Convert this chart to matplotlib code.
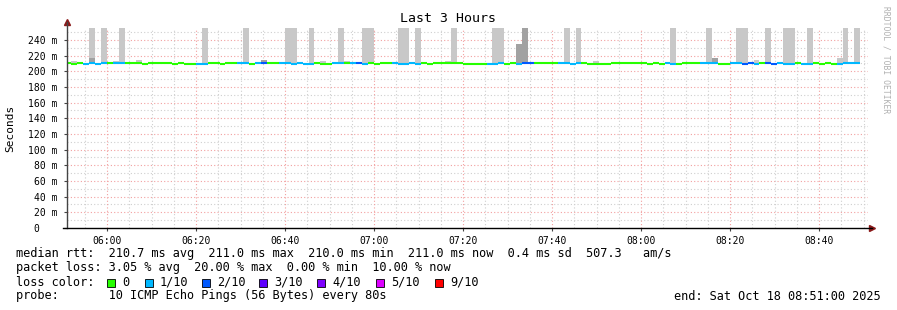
import numpy as np
import matplotlib.pyplot as plt
from matplotlib.patches import Rectangle

# bins of 80 s, minutes after 05:51 (left edge of first bin)
step_min = 80 / 60
first_edge = -23 / 60

# loss per bin (pings lost out of 10) and median rtt level (U = 211.0, D = 209.6 ms)
loss = [0, 0, 0, 1, 1, 1, 1, 0, 1, 1, 0, 0, 0, 0, 0, 0, 0, 0, 0, 0,
        0, 0, 1, 1, 0, 0, 0, 0, 0, 1, 1, 0, 1, 2, 0, 0, 1, 1, 1, 1,
        1, 1, 0, 0, 0, 1, 1, 0, 1, 2, 1, 0, 0, 0, 0, 1, 1, 1, 1, 1,
        0, 0, 0, 0, 0, 0, 0, 0, 0, 0, 0, 1, 1, 1, 0, 0, 1, 2, 2, 0,
        0, 0, 0, 1, 1, 1, 1, 0, 0, 0, 0, 0, 0, 0, 0, 0, 0, 0, 0, 0,
        0, 1, 1, 0, 0, 0, 0, 1, 1, 1, 0, 0, 1, 1, 2, 2, 1, 0, 2, 2,
        1, 1, 1, 0, 1, 1, 0, 0, 0, 0, 1, 1, 1, 1]
levels = ("UDUDUDUUUU" "UUUDUUUUDU" "DDDDUUDUUU" "UDUUUUUUDU" "DDUDDUUUUU"
          "DUDUUUDDUD" "UDUUUUUDDD" "DDDUDUDUUU" "UUUUUDUUDD" "DDUUUUUUDU"
          "DUDDUUUUUU" "DDUUDUDUUD" "UDDUDDUDUD" "DUUU")
hi, lo = 211.0, 209.6
median = [hi if c == "U" else lo for c in levels]

# highest ping per bin (light smoke) and upper edge of denser smoke (dark)
ping_max = list(median)
for j in [4, 6, 9, 23, 30, 37, 38, 41, 46, 50, 51, 56, 57, 59, 65, 72, 73,
          84, 86, 102, 108, 113, 114, 118, 121, 122, 125, 131, 133]:
    ping_max[j] = 300.0
for j, v in [(1, 213), (8, 213), (12, 214), (43, 213), (47, 213), (64, 213),
             (89, 213), (116, 215), (130, 217), (76, 235)]:
    ping_max[j] = v
ping_dark = list(median)
for j, v in [(4, 217), (33, 215), (109, 217), (76, 235), (77, 300)]:
    ping_dark[j] = v

loss_colors = {0: "#26ff00", 1: "#00b8ff", 2: "#0059ff", 3: "#5e00ff",
               4: "#7e00ff", 5: "#dd00ff", 9: "#ff0000"}
legend_labels = ["0", "1/10", "2/10", "3/10", "4/10", "5/10", "9/10"]
legend_keys = [0, 1, 2, 3, 4, 5, 9]

xtick_pos = [9, 29, 49, 69, 89, 109, 129, 149, 169]
xtick_labels = ["06:00", "06:20", "06:40", "07:00", "07:20",
                "07:40", "08:00", "08:20", "08:40"]

W, H = 897, 310
mono = "DejaVu Sans Mono"
plt.rcParams["font.family"] = mono

fig = plt.figure(figsize=(W / 100, H / 100), dpi=100)
fig.patch.set_facecolor("white")
ax = fig.add_axes([67 / W, 1 - 228 / H, 801 / W, 200 / H])
ax.set_xlim(0, 180)
ax.set_ylim(0, 255.3)

edges = first_edge + step_min * np.arange(len(loss))
med = np.array(median)

# grid
for y in range(10, 256, 10):
    major = y % 20 == 0
    ax.axhline(y, color="#f2a0a0" if major else "#cfcfcf", lw=0.8,
               ls=(0, (1, 2)), zorder=0)
for x in range(4, 180, 5):
    major = (x - 9) % 20 == 0
    ax.axvline(x, color="#f2a0a0" if major else "#cfcfcf", lw=0.8,
               ls=(0, (1, 2)), zorder=0)

# smoke
ax.bar(edges, np.array(ping_max) - med, bottom=med, width=step_min,
       align="edge", color="#c8c8c8", linewidth=0, zorder=1)
ax.bar(edges, np.array(ping_dark) - med, bottom=med, width=step_min,
       align="edge", color="#a2a2a2", linewidth=0, zorder=2)

# median coloured by loss
for e, m, l in zip(edges, med, loss):
    ax.plot([max(e, 0), e + step_min], [m, m], color=loss_colors[l],
            lw=1.5, solid_capstyle="butt", zorder=3)

for s in ["top", "right", "left", "bottom"]:
    ax.spines[s].set_visible(False)
ax.plot([0, 0], [0, 1.03], color="#444444", lw=1, transform=ax.transAxes,
        clip_on=False, zorder=4)
ax.plot([-0.005, 1.005], [0, 0], color="black", lw=1, transform=ax.transAxes,
        clip_on=False, zorder=4)
ax.plot([0], [1.03], marker="^", ms=4, color="#8b1a1a", transform=ax.transAxes,
        clip_on=False)
ax.plot([1.005], [0], marker=">", ms=4, color="#8b1a1a", transform=ax.transAxes,
        clip_on=False)

yt = list(range(0, 241, 20))
ax.set_yticks(yt)
ax.set_yticklabels(["0   "] + ["%d m" % v for v in yt[1:]])
ax.set_xticks(xtick_pos)
ax.set_xticklabels(xtick_labels)
ax.tick_params(axis="both", labelsize=7, length=2, width=0.8, color="#444444")
ax.tick_params(axis="y", pad=5)
ax.tick_params(axis="x", pad=4)

ax.set_ylabel("Seconds", fontsize=8)
ax.yaxis.set_label_coords(-52 / 801, 0.5)

def px_text(x, y, s, **kw):
    fig.text(x / W, 1 - y / H, s, va="center", **kw)

px_text(448, 19, "Last 3 Hours", ha="center", fontsize=9.5)
px_text(886, 60, "RRDTOOL / TOBI OETIKER", ha="center", rotation=270,
        fontsize=5.8, color="#b0b0b0")

fs = 8.6
px_text(16, 254, "median rtt:  210.7 ms avg  211.0 ms max  210.0 ms min"
        "  211.0 ms now  0.4 ms sd  507.3   am/s", fontsize=fs)
px_text(16, 268, "packet loss: 3.05 % avg  20.00 % max  0.00 % min"
        "  10.00 % now", fontsize=fs)
px_text(16, 282, "loss color:", fontsize=fs)
label_x = [122, 160, 217, 274, 332, 391, 450]
for k, lab, lx in zip(legend_keys, legend_labels, label_x):
    fig.add_artist(Rectangle(((lx - 15) / W, 1 - 287 / H), 8 / W, 8 / H,
                             facecolor=loss_colors[k], edgecolor="black",
                             lw=0.6, transform=fig.transFigure))
    px_text(lx, 282, lab, fontsize=fs)
px_text(16, 296, "probe:       10 ICMP Echo Pings (56 Bytes) every 80s",
        fontsize=fs)
px_text(881, 296, "end: Sat Oct 18 08:51:00 2025", ha="right", fontsize=fs)

fig.savefig("out.png", dpi=100)
